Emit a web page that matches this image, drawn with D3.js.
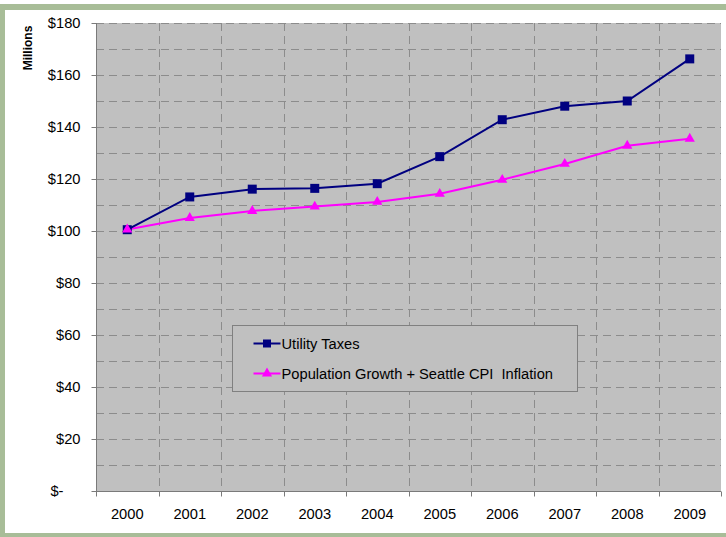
<!DOCTYPE html>
<html>
<head>
<meta charset="utf-8">
<script src="https://cdn.jsdelivr.net/npm/d3@7"></script>
<style>
  body { margin: 0; background: #fff; }
  svg { display: block; font-family: "Liberation Sans", Arial, sans-serif; }
</style>
</head>
<body>
<div id="viz"></div>
<script>
// data (millions of dollars)
const years = ["2000", "2001", "2002", "2003", "2004", "2005", "2006", "2007", "2008", "2009"];
const utilityTaxes = [100.5, 113.1, 116.1, 116.4, 118.2, 128.6, 142.8, 148.0, 150.0, 166.2];
const popInflation = [100.6, 105.0, 107.7, 109.4, 111.2, 114.3, 119.7, 125.8, 132.8, 135.5];
const yTicks = [0, 20, 40, 60, 80, 100, 120, 140, 160, 180];
const gridValues = d3.range(10, 190, 10);
const seriesNames = ["Utility Taxes", "Population Growth + Seattle CPI  Inflation"];

const width = 726, height = 537;
const plot = { left: 96, top: 23, right: 721, bottom: 491 };
const fontSize = 14.7;

const svg = d3.select("#viz").append("svg")
    .attr("width", width)
    .attr("height", height);

// green frame
svg.append("rect").attr("x", 0).attr("y", 4).attr("width", 5).attr("height", height - 4).attr("fill", "#a8bd98");
svg.append("rect").attr("x", 0).attr("y", 4).attr("width", width).attr("height", 6).attr("fill", "#a8bd98");
svg.append("rect").attr("x", 0).attr("y", 533).attr("width", width).attr("height", 4).attr("fill", "#a8bd98");

// scales
const x = d3.scaleBand().domain(years).range([plot.left, plot.right]);
const y = d3.scaleLinear().domain([0, 180]).range([plot.bottom, plot.top]);

// plot background
svg.append("rect")
    .attr("x", plot.left).attr("y", plot.top)
    .attr("width", plot.right - plot.left).attr("height", plot.bottom - plot.top)
    .attr("fill", "#c0c0c0");

// dashed grid
svg.append("g").selectAll("line.h").data(gridValues).join("line")
    .attr("x1", plot.left).attr("x2", plot.right)
    .attr("y1", d => Math.round(y(d)) + 0.5).attr("y2", d => Math.round(y(d)) + 0.5)
    .attr("stroke", "#8c8c8c").attr("stroke-dasharray", "8,5");

svg.append("g").selectAll("line.v").data(years.slice(1)).join("line")
    .attr("x1", d => Math.round(x(d)) + 0.5).attr("x2", d => Math.round(x(d)) + 0.5)
    .attr("y1", plot.top).attr("y2", plot.bottom)
    .attr("stroke", "#8c8c8c").attr("stroke-dasharray", "8,5");

// y axis
const yAxis = svg.append("g")
    .attr("transform", `translate(${plot.left + 0.5},0)`)
    .call(d3.axisLeft(y).tickValues(yTicks).tickSize(5).tickPadding(11)
        .tickFormat(d => d === 0 ? "$-" : "$" + d));
yAxis.attr("font-family", null).attr("font-size", fontSize);
yAxis.select(".domain").attr("stroke", "#7a7a7a").attr("d", `M0,${plot.top}V${plot.bottom}`);
yAxis.selectAll(".tick line").attr("stroke", "#7a7a7a");
yAxis.selectAll(".tick text").attr("fill", "#000")
    .attr("dx", d => d === 0 ? -17 : 0);

// x axis
const xAxis = svg.append("g")
    .attr("transform", `translate(0,${plot.bottom + 0.5})`)
    .call(d3.axisBottom(x).tickSize(0).tickPadding(17));
xAxis.attr("font-family", null).attr("font-size", fontSize);
xAxis.select(".domain").attr("stroke", "#7a7a7a").attr("d", `M${plot.left},0H${plot.right}`);
xAxis.selectAll(".tick text").attr("fill", "#000");
xAxis.selectAll("line.tk").data(years.concat(["end"])).join("line")
    .attr("class", "tk")
    .attr("x1", (d, i) => Math.round(plot.left + i * x.step()) + 0.5)
    .attr("x2", (d, i) => Math.round(plot.left + i * x.step()) + 0.5)
    .attr("y1", 0).attr("y2", 5)
    .attr("stroke", "#7a7a7a");

// axis title
svg.append("text")
    .attr("transform", "translate(32,48) rotate(-90)")
    .attr("text-anchor", "middle")
    .attr("font-size", 12).attr("font-weight", "bold")
    .text("Millions");

// lines
const cx = d => x(d) + x.bandwidth() / 2;
const line = d3.line().x((d, i) => cx(years[i])).y(d => y(d));

svg.append("path").datum(popInflation)
    .attr("d", line).attr("fill", "none").attr("stroke", "#ff00ff").attr("stroke-width", 2);
svg.append("path").datum(utilityTaxes)
    .attr("d", line).attr("fill", "none").attr("stroke", "#000080").attr("stroke-width", 2);

svg.append("g").selectAll("rect").data(utilityTaxes).join("rect")
    .attr("x", (d, i) => cx(years[i]) - 4.5).attr("y", d => y(d) - 4.5)
    .attr("width", 9).attr("height", 9).attr("fill", "#000080");

const tri = d3.symbol().type(d3.symbolTriangle).size(45);
svg.append("g").selectAll("path").data(popInflation).join("path")
    .attr("d", tri)
    .attr("transform", (d, i) => `translate(${cx(years[i])},${y(d)})`)
    .attr("fill", "#ff00ff");

// legend
const legend = svg.append("g").attr("transform", "translate(232.5,325.5)");
legend.append("rect").attr("width", 345).attr("height", 66)
    .attr("fill", "#c0c0c0").attr("stroke", "#808080");
const entries = [
  { name: seriesNames[0], color: "#000080", shape: "square", cy: 18 },
  { name: seriesNames[1], color: "#ff00ff", shape: "triangle", cy: 48 }
];
entries.forEach(e => {
  legend.append("line").attr("x1", 21).attr("x2", 48).attr("y1", e.cy).attr("y2", e.cy)
      .attr("stroke", e.color).attr("stroke-width", 2);
  if (e.shape === "square") {
    legend.append("rect").attr("x", 30.5).attr("y", e.cy - 4).attr("width", 8).attr("height", 8).attr("fill", e.color);
  } else {
    legend.append("path").attr("d", tri).attr("transform", `translate(34.5,${e.cy})`).attr("fill", e.color);
  }
  legend.append("text").attr("x", 49).attr("y", e.cy + 5)
      .attr("font-size", fontSize).attr("xml:space", "preserve").style("white-space", "pre")
      .text(e.name);
});
</script>
</body>
</html>
